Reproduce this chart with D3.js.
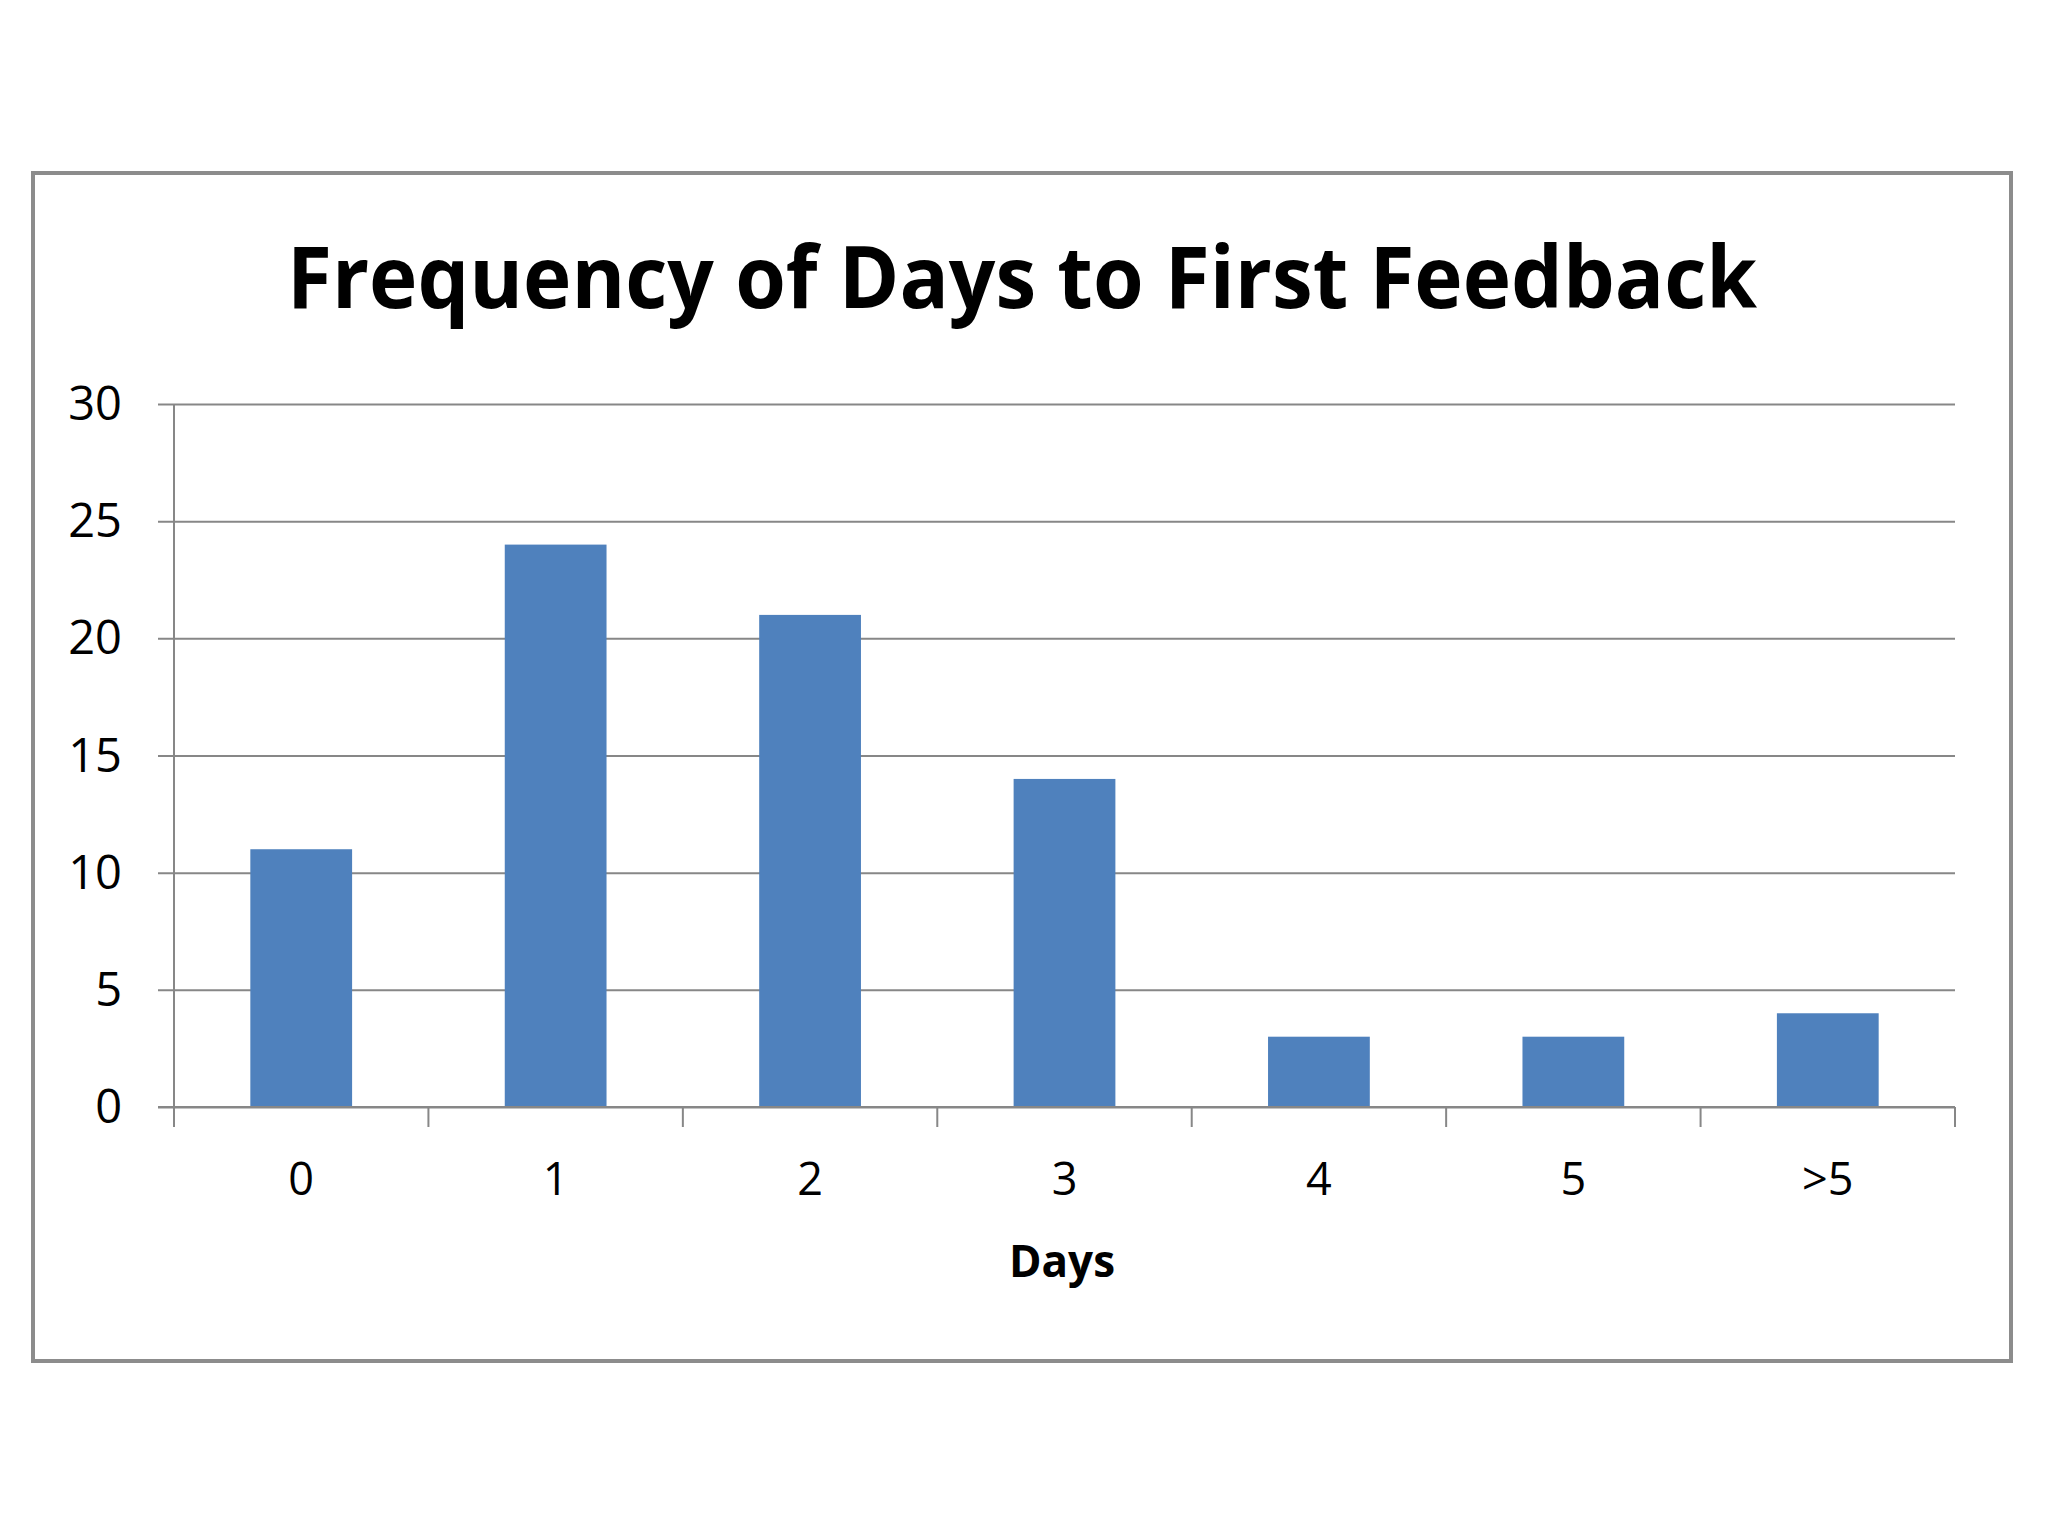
<!DOCTYPE html>
<html>
<head>
<meta charset="utf-8">
<script src="https://cdn.jsdelivr.net/npm/d3@7"></script>
<style>
  html, body { margin: 0; padding: 0; background: #ffffff; }
  svg { display: block; }
</style>
</head>
<body>
<svg id="chart" width="2048" height="1536"></svg>
<script>
const categories = ["0", "1", "2", "3", "4", "5", ">5"];
const frequencies = [11, 24, 21, 14, 3, 3, 4];
const yTicks = [0, 5, 10, 15, 20, 25, 30];
const titleText = "Frequency of Days to First Feedback";
const xAxisTitle = "Days";

const svg = d3.select("#chart");
const W = 2048, H = 1536;
const plot = { left: 174, right: 1955, top: 404, bottom: 1107 };
const gridColor = "#878787";
const barColor = "#4F81BD";
const font = "'Open Sans', 'DejaVu Sans', sans-serif";

svg.append("rect").attr("width", W).attr("height", H).attr("fill", "#ffffff");

// outer frame
svg.append("rect")
  .attr("x", 33).attr("y", 173)
  .attr("width", 2011 - 33).attr("height", 1361 - 173)
  .attr("fill", "#ffffff")
  .attr("stroke", "#8c8c8c").attr("stroke-width", 4);

// title
svg.append("text")
  .attr("x", 1022).attr("y", 308)
  .attr("text-anchor", "middle")
  .attr("font-family", font).attr("font-weight", 700)
  .attr("font-size", 86).attr("fill", "#000")
  .attr("textLength", 1470).attr("lengthAdjust", "spacingAndGlyphs")
  .text(titleText);

const x = d3.scaleBand()
  .domain(categories)
  .range([plot.left, plot.right])
  .paddingInner(0.6)
  .paddingOuter(0.3);

const y = d3.scaleLinear()
  .domain([0, 30])
  .range([plot.bottom, plot.top]);

// gridlines + y ticks via axis
const yAxis = d3.axisLeft(y)
  .tickValues(yTicks)
  .tickSize(-(plot.right - plot.left))
  .tickPadding(0)
  .tickFormat("");
const gy = svg.append("g")
  .attr("transform", `translate(${plot.left},0)`)
  .call(yAxis);
gy.select(".domain").remove();
gy.selectAll(".tick line")
  .attr("x1", -16)
  .attr("stroke", gridColor).attr("stroke-width", 2);

// y labels
svg.append("g").selectAll("text")
  .data(yTicks)
  .join("text")
  .attr("x", 122)
  .attr("y", d => y(d) + 16)
  .attr("text-anchor", "end")
  .attr("font-family", font).attr("font-size", 47)
  .attr("fill", "#000")
  .text(d => d);

// bars
svg.append("g").selectAll("rect")
  .data(frequencies)
  .join("rect")
  .attr("x", (d, i) => x(categories[i]))
  .attr("width", x.bandwidth())
  .attr("y", d => y(d))
  .attr("height", d => y(0) - y(d))
  .attr("fill", barColor);

// y axis line
svg.append("line")
  .attr("x1", plot.left).attr("x2", plot.left)
  .attr("y1", plot.top).attr("y2", plot.bottom)
  .attr("stroke", gridColor).attr("stroke-width", 2);

// x axis line
svg.append("line")
  .attr("x1", plot.left - 16).attr("x2", plot.right)
  .attr("y1", plot.bottom).attr("y2", plot.bottom)
  .attr("stroke", gridColor).attr("stroke-width", 2);

// x ticks at category boundaries
const boundaries = categories.map(c => x(c) - x.step() * x.paddingInner() / 2);
boundaries.push(plot.right);
svg.append("g").selectAll("line")
  .data(boundaries)
  .join("line")
  .attr("x1", d => d).attr("x2", d => d)
  .attr("y1", plot.bottom).attr("y2", plot.bottom + 20)
  .attr("stroke", gridColor).attr("stroke-width", 2);

// x labels
svg.append("g").selectAll("text")
  .data(categories)
  .join("text")
  .attr("x", d => x(d) + x.bandwidth() / 2)
  .attr("y", 1195)
  .attr("text-anchor", "middle")
  .attr("font-family", font).attr("font-size", 45)
  .attr("fill", "#000")
  .text(d => d);

// x axis title
svg.append("text")
  .attr("x", 1062).attr("y", 1277)
  .attr("text-anchor", "middle")
  .attr("font-family", font).attr("font-weight", 700)
  .attr("font-size", 44).attr("fill", "#000")
  .text(xAxisTitle);
</script>
</body>
</html>
